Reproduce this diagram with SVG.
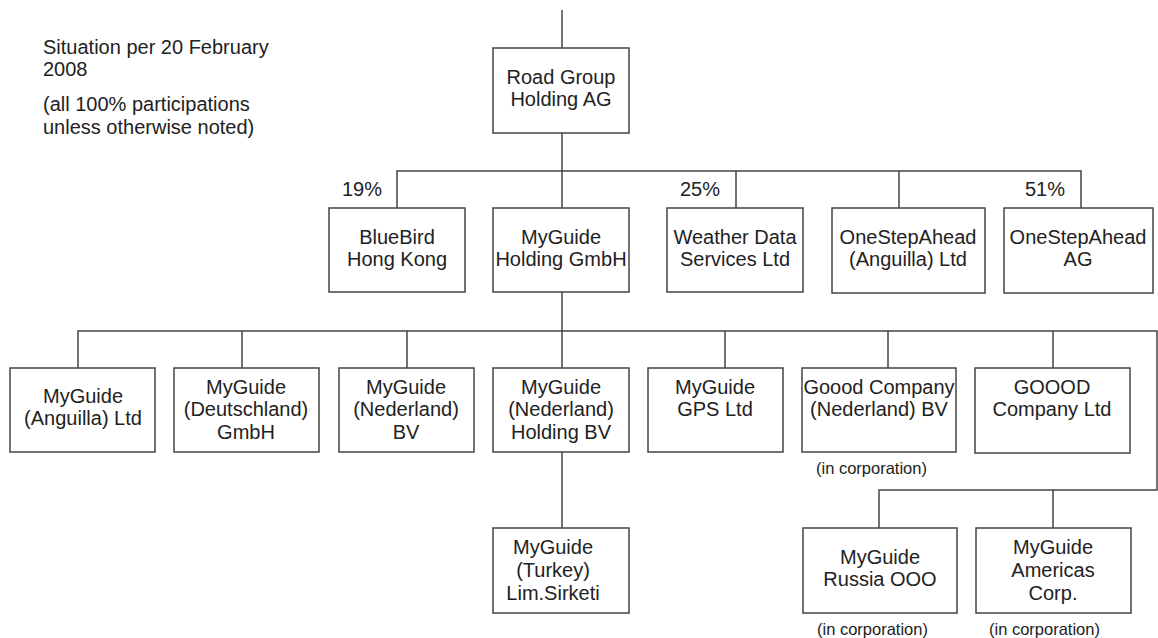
<svg xmlns="http://www.w3.org/2000/svg" width="1158" height="638" viewBox="0 0 1158 638">
<style>
  .box{fill:#ffffff;stroke:#444;stroke-width:1.5}
  .ln{fill:none;stroke:#444;stroke-width:1.5}
  text{font-family:"Liberation Sans",Arial,sans-serif;font-size:20px;fill:#222}
  .c{text-anchor:middle}
  .e{text-anchor:end}
  .note{font-size:16.5px}
</style>
<rect width="1158" height="638" fill="#ffffff"/>

<g id="legend">
  <text x="43" y="54">Situation per 20 February</text>
  <text x="43" y="76">2008</text>
  <text x="43" y="111">(all 100% participations</text>
  <text x="43" y="134">unless otherwise noted)</text>
</g>

<g id="connectors">
  <path class="ln" d="M562 10 V48"/>
  <path class="ln" d="M562 133 V171"/>
  <path class="ln" d="M397 208 V171 H1081 V208"/>
  <path class="ln" d="M562 171 V208"/>
  <path class="ln" d="M736 171 V208"/>
  <path class="ln" d="M899 171 V208"/>
  <path class="ln" d="M562 292 V331"/>
  <path class="ln" d="M78 368 V331 H1157 V490 H879 V528"/>
  <path class="ln" d="M242 331 V368"/>
  <path class="ln" d="M407 331 V368"/>
  <path class="ln" d="M562 331 V368"/>
  <path class="ln" d="M725 331 V368"/>
  <path class="ln" d="M888 331 V368"/>
  <path class="ln" d="M1053 331 V368"/>
  <path class="ln" d="M562 452 V528"/>
  <path class="ln" d="M1053 490 V528"/>
</g>

<g id="labels">
  <text class="e" x="382" y="196">19%</text>
  <text class="e" x="720" y="196">25%</text>
  <text class="e" x="1065" y="196">51%</text>
</g>

<g id="road-group">
  <rect class="box" x="493" y="48" width="136" height="85"/>
  <text class="c" x="561" y="84">Road Group</text>
  <text class="c" x="561" y="106">Holding AG</text>
</g>

<g id="bluebird">
  <rect class="box" x="329" y="208" width="136" height="84"/>
  <text class="c" x="397" y="244">BlueBird</text>
  <text class="c" x="397" y="266">Hong Kong</text>
</g>
<g id="myguide-holding">
  <rect class="box" x="493" y="208" width="136" height="84"/>
  <text class="c" x="561" y="244">MyGuide</text>
  <text class="c" x="561" y="266">Holding GmbH</text>
</g>
<g id="weather-data">
  <rect class="box" x="667" y="208" width="136" height="84"/>
  <text class="c" x="735" y="244">Weather Data</text>
  <text class="c" x="735" y="266">Services Ltd</text>
</g>
<g id="onestep-anguilla">
  <rect class="box" x="832" y="208" width="153" height="85"/>
  <text class="c" x="908" y="244">OneStepAhead</text>
  <text class="c" x="908" y="266">(Anguilla) Ltd</text>
</g>
<g id="onestep-ag">
  <rect class="box" x="1004" y="208" width="149" height="85"/>
  <text class="c" x="1078" y="244">OneStepAhead</text>
  <text class="c" x="1078" y="266">AG</text>
</g>

<g id="myguide-anguilla">
  <rect class="box" x="10" y="368" width="145" height="84"/>
  <text class="c" x="83" y="403">MyGuide</text>
  <text class="c" x="83" y="425">(Anguilla) Ltd</text>
</g>
<g id="myguide-deutschland">
  <rect class="box" x="174" y="368" width="145" height="84"/>
  <text class="c" x="246" y="394">MyGuide</text>
  <text class="c" x="246" y="416">(Deutschland)</text>
  <text class="c" x="246" y="439">GmbH</text>
</g>
<g id="myguide-nederland">
  <rect class="box" x="339" y="368" width="135" height="84"/>
  <text class="c" x="406" y="394">MyGuide</text>
  <text class="c" x="406" y="416">(Nederland)</text>
  <text class="c" x="406" y="439">BV</text>
</g>
<g id="myguide-nederland-holding">
  <rect class="box" x="493" y="368" width="136" height="84"/>
  <text class="c" x="561" y="394">MyGuide</text>
  <text class="c" x="561" y="416">(Nederland)</text>
  <text class="c" x="561" y="439">Holding BV</text>
</g>
<g id="myguide-gps">
  <rect class="box" x="648" y="368" width="135" height="84"/>
  <text class="c" x="715" y="394">MyGuide</text>
  <text class="c" x="715" y="416">GPS Ltd</text>
</g>
<g id="goood-nederland">
  <rect class="box" x="802" y="368" width="154" height="84"/>
  <text class="c" x="879" y="394">Goood Company</text>
  <text class="c" x="879" y="416">(Nederland) BV</text>
  <text class="note" x="816" y="474">(in corporation)</text>
</g>
<g id="goood-ltd">
  <rect class="box" x="975" y="368" width="155" height="85"/>
  <text class="c" x="1052" y="394">GOOOD</text>
  <text class="c" x="1052" y="416">Company Ltd</text>
</g>

<g id="myguide-turkey">
  <rect class="box" x="493" y="528" width="136" height="85"/>
  <text class="c" x="553" y="554">MyGuide</text>
  <text class="c" x="553" y="577">(Turkey)</text>
  <text class="c" x="553" y="600">Lim.Sirketi</text>
</g>
<g id="myguide-russia">
  <rect class="box" x="803" y="528" width="154" height="85"/>
  <text class="c" x="880" y="564">MyGuide</text>
  <text class="c" x="880" y="586">Russia OOO</text>
  <text class="note" x="817" y="635">(in corporation)</text>
</g>
<g id="myguide-americas">
  <rect class="box" x="976" y="528" width="155" height="85"/>
  <text class="c" x="1053" y="554">MyGuide</text>
  <text class="c" x="1053" y="577">Americas</text>
  <text class="c" x="1053" y="600">Corp.</text>
  <text class="note" x="989" y="635">(in corporation)</text>
</g>
</svg>
